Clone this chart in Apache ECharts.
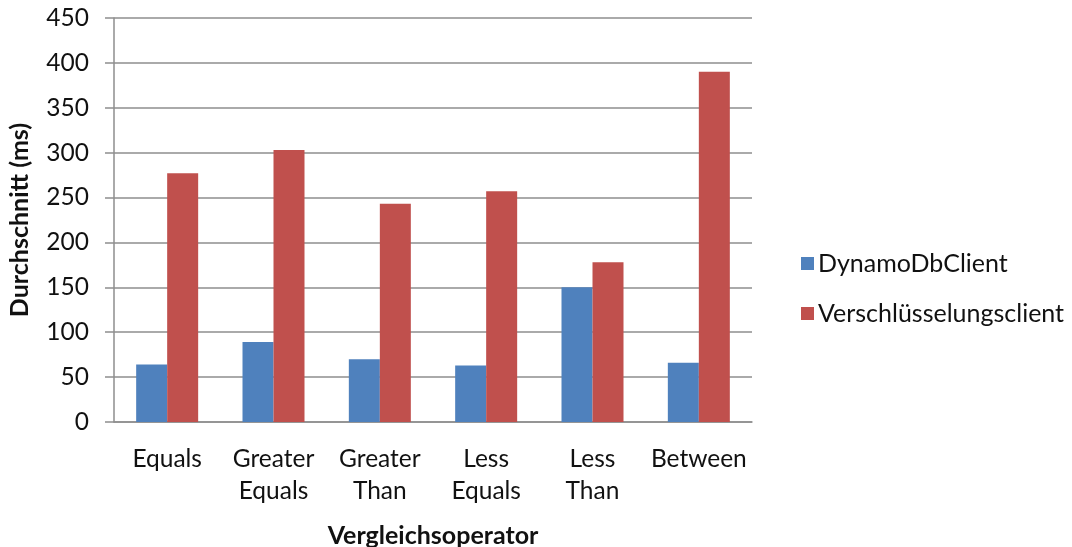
<!DOCTYPE html>
<html>
<head>
<meta charset="utf-8">
<script src="https://cdn.jsdelivr.net/npm/echarts@6/dist/echarts.min.js"></script>
<style>
  html, body { margin: 0; padding: 0; background: #ffffff; }
  #chart { width: 1072px; height: 547px; }
</style>
</head>
<body>
<div id="chart"></div>
<script>
// Comparison operators on the x axis
const categories = ['Equals', 'Greater\nEquals', 'Greater\nThan', 'Less\nEquals', 'Less\nThan', 'Between'];
// Average query time in ms per client
const dynamoDbClient = [64, 89, 70, 63, 150, 66];
const verschluesselungsclient = [277, 303, 243, 257, 178, 390];
const seriesNames = ['DynamoDbClient', 'Verschlüsselungsclient'];
const yTicks = { min: 0, max: 450, step: 50 };

const FONT = 'Lato, "Open Sans", sans-serif';
const TEXT = '#111111';
const GRID = '#8e8e8e';

const chart = echarts.init(document.getElementById('chart'), null, { renderer: 'canvas' });
chart.setOption({
  animation: false,
  backgroundColor: '#ffffff',
  textStyle: { fontFamily: FONT, color: TEXT },
  grid: { left: 114, right: 320, top: 18, bottom: 125, containLabel: false, outerBoundsMode: 'none' },
  legend: {
    orient: 'vertical',
    left: 796,
    top: 246,
    itemWidth: 13,
    itemHeight: 13,
    itemGap: 25,
    icon: 'rect',
    textStyle: { fontFamily: FONT, fontSize: 25, color: TEXT, padding: [0, 0, 0, -1] },
    data: seriesNames
  },
  xAxis: {
    type: 'category',
    data: categories,
    name: 'Vergleichsoperator',
    nameLocation: 'middle',
    nameGap: 101,
    nameTextStyle: { fontFamily: FONT, fontWeight: 'bold', fontSize: 25, color: TEXT },
    axisLine: { show: true, lineStyle: { color: GRID, width: 1.5 } },
    axisTick: { show: false },
    axisLabel: { fontFamily: FONT, fontSize: 24.5, color: TEXT, margin: 21, lineHeight: 32, interval: 0 }
  },
  yAxis: {
    type: 'value',
    min: yTicks.min,
    max: yTicks.max,
    interval: yTicks.step,
    name: 'Durchschnitt (ms)',
    nameLocation: 'middle',
    nameGap: 82,
    nameTextStyle: { fontFamily: FONT, fontWeight: 'bold', fontSize: 25, color: TEXT },
    axisLine: { show: true, lineStyle: { color: GRID, width: 1.5 } },
    axisTick: { show: true, inside: false, length: 9, lineStyle: { color: GRID, width: 1.5 } },
    axisLabel: { fontFamily: FONT, fontSize: 24.5, color: TEXT, margin: 25 },
    splitLine: { show: true, lineStyle: { color: GRID, width: 1.5 } }
  },
  series: [
    {
      name: seriesNames[0],
      type: 'bar',
      data: dynamoDbClient,
      barWidth: 31,
      barGap: '0%',
      itemStyle: { color: '#4F81BD' }
    },
    {
      name: seriesNames[1],
      type: 'bar',
      data: verschluesselungsclient,
      barWidth: 31,
      barGap: '0%',
      itemStyle: { color: '#C0504D' }
    }
  ]
});
</script>
</body>
</html>
